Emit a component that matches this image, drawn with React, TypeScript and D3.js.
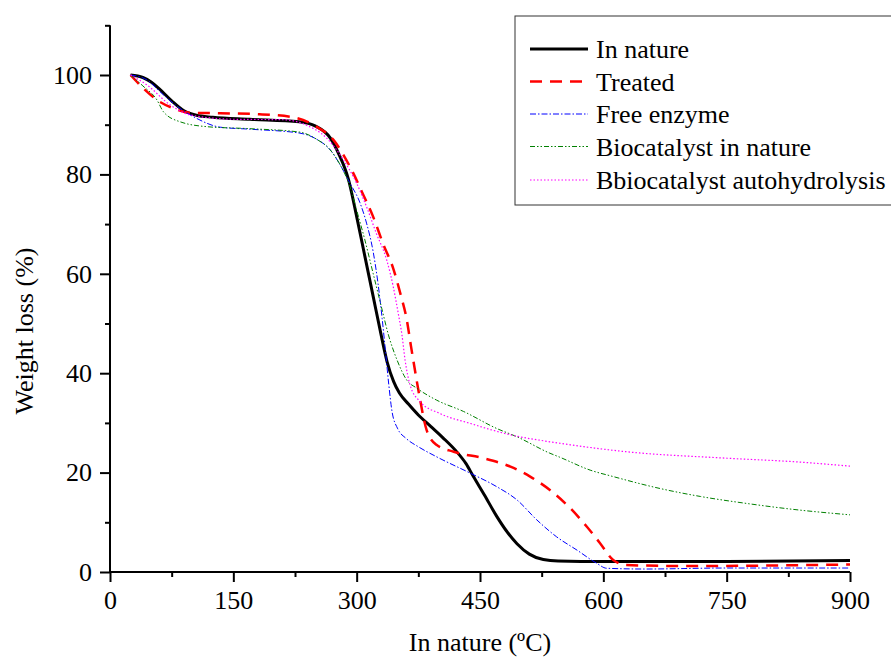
import React, { useEffect, useRef } from "react";
import * as d3 from "d3";

type Pt = [number, number];

const xTicks = [0, 150, 300, 450, 600, 750, 900];
const xMinorTicks = [75, 225, 375, 525, 675, 825];
const yTicks = [0, 20, 40, 60, 80, 100];
const yMinorTicks = [10, 30, 50, 70, 90, 110];

const inNature: Pt[] = [
  [25, 100], [40, 99.5], [50, 98.6], [60, 97.2], [75, 94.8], [90, 92.8], [105, 91.9], [125, 91.5],
  [170, 91.1], [230, 90.6], [250, 89.7], [268, 87.3], [278, 84.2], [290, 79], [300, 71.5],
  [310, 63.5], [320, 55.5], [330, 47.5], [337, 42.3], [345, 38.3], [352, 36],
  [363, 33.8], [375, 31.6], [390, 29.3], [405, 27], [420, 24.5], [433, 21.8], [442, 19.2],
  [455, 15.6], [470, 11.3], [482, 8.3], [495, 5.7], [510, 3.6], [527, 2.5], [545, 2.2],
  [600, 2.1], [750, 2.1], [900, 2.3],
];

const treated: Pt[] = [
  [25, 100], [40, 97.4], [57, 95], [77, 93.3], [97, 92.4], [134, 92.3], [182, 92.1], [223, 91.5],
  [251, 89.6], [272, 86.9], [284, 83.9], [296, 80.2], [308, 75.9], [320, 71.5], [332, 66.1],
  [345, 60.8], [353, 56.1], [361, 50.7], [366, 45.5], [371, 40.5], [377, 34.8], [385, 28.6],
  [397, 25.6], [418, 24.2], [454, 22.9], [487, 21.2], [511, 19.2], [535, 16.5], [560, 12.8],
  [580, 9.1], [596, 5.8], [612, 2.4], [628, 1.4], [700, 1.2], [800, 1.3], [900, 1.5],
];

const freeEnzyme: Pt[] = [
  [25, 100], [45, 99], [65, 96], [85, 93.3], [105, 91.3], [134, 89.5], [170, 89.1], [231, 88.3],
  [251, 87.1], [268, 84.9], [280, 81.9], [292, 78.2], [304, 74.3], [312, 70.2], [320, 64.5],
  [326, 58], [331, 51], [335, 44.5], [339, 37.8], [343, 32.3], [350, 28.8], [360, 26.9],
  [375, 25.2], [397, 23.2], [438, 19.9], [470, 17.2], [495, 14.5], [519, 10.5], [543, 7.1],
  [568, 4.4], [592, 1.75], [604, 0.75], [650, 0.6], [750, 0.8], [900, 0.8],
];

const biocatalyst: Pt[] = [
  [25, 100], [40, 97.8], [57, 95], [65, 92.6], [85, 90.6], [118, 89.6], [170, 89.2], [231, 88.5],
  [251, 87.1], [268, 84.9], [280, 81.9], [292, 77.5], [300, 72.8], [310, 66.8], [320, 60.1],
  [330, 53.4], [339, 47.5], [349, 42.7], [361, 38.6], [373, 37], [397, 34.6], [430, 32.3],
  [470, 28.9], [495, 27.2], [535, 23.9], [547, 23.1], [584, 20.5], [612, 19.2], [669, 16.8],
  [718, 15.2], [774, 13.8], [831, 12.6], [900, 11.5],
];

const autohydrolysis: Pt[] = [
  [25, 100], [45, 98], [73, 94], [97, 92], [150, 91.1], [211, 91], [239, 89.9], [263.5, 87.3],
  [284, 82.9], [300, 78.2], [312, 73.5], [324, 68.1], [336.5, 62.8], [344.5, 57.4], [350.6, 52],
  [355, 47.8], [359, 42.5], [365, 37.6], [377, 34.3], [401, 31.9], [438, 29.9], [487, 27.6],
  [535, 26.2], [547, 25.9], [628, 24.2], [750, 22.9], [831, 22.2], [900, 21.3],
];

const seriesNames = ["In nature", "Treated", "Free enzyme", "Biocatalyst in nature", "Bbiocatalyst autohydrolysis"];
const seriesData = [inNature, treated, freeEnzyme, biocatalyst, autohydrolysis];
const seriesColors = ["#000000", "#ff0000", "#0000ff", "#008000", "#ff00ff"];
const seriesWidths = [3, 2.5, 1, 1, 1.2];
const seriesDash = ["", "12,8", "6,2,1.5,2", "5,2,1.5,2,1.5,2", "1.5,2"];

const W = 891;
const H = 659;
const FONT = "'Liberation Serif', 'Times New Roman', serif";

export default function App() {
  const gx = useRef<SVGGElement>(null);
  const gy = useRef<SVGGElement>(null);
  const gxm = useRef<SVGGElement>(null);
  const gym = useRef<SVGGElement>(null);

  const x = d3.scaleLinear().domain([0, 900]).range([110, 850]);
  const y = d3.scaleLinear().domain([0, 100]).range([572, 75]);

  const line = d3
    .line<Pt>()
    .x((d) => x(d[0]))
    .y((d) => y(d[1]))
    .curve(d3.curveMonotoneX);

  useEffect(() => {
    const xa = d3.axisBottom(x).tickValues(xTicks).tickSize(10).tickPadding(9).tickFormat((d) => String(d));
    const sx = d3.select(gx.current!);
    sx.call(xa);
    sx.select(".domain").attr("stroke-width", 2).attr("d", `M${x(0)},0H${x(900)}`);
    sx.selectAll(".tick line").attr("stroke-width", 2);
    sx.selectAll(".tick text").attr("font-family", FONT).attr("font-size", 26).attr("fill", "#000");

    const xm = d3.axisBottom(x).tickValues(xMinorTicks).tickSize(5).tickFormat(() => "");
    const sxm = d3.select(gxm.current!);
    sxm.call(xm);
    sxm.select(".domain").remove();
    sxm.selectAll(".tick line").attr("stroke-width", 2);

    const ya = d3.axisLeft(y).tickValues(yTicks).tickSize(10).tickPadding(8).tickFormat((d) => String(d));
    const sy = d3.select(gy.current!);
    sy.call(ya);
    sy.select(".domain").attr("stroke-width", 2).attr("d", `M0,${y(110)}V${y(0)}`);
    sy.selectAll(".tick line").attr("stroke-width", 2);
    sy.selectAll(".tick text").attr("font-family", FONT).attr("font-size", 26).attr("fill", "#000");

    const ym = d3.axisLeft(y).tickValues(yMinorTicks).tickSize(5).tickFormat(() => "");
    const sym = d3.select(gym.current!);
    sym.call(ym);
    sym.select(".domain").remove();
    sym.selectAll(".tick line").attr("stroke-width", 2);
  }, []);

  const legendRows = [49, 81.5, 114, 146.5, 180];

  return (
    <svg
      width={W}
      height={H}
      style={{ position: "absolute", left: 0, top: 0, background: "#fff" }}
      fontFamily={FONT}
    >
      <rect x={0} y={0} width={W} height={H} fill="#fff" />
      {seriesData.map((d, i) => (
        <path
          key={seriesNames[i]}
          d={line(d) || ""}
          fill="none"
          stroke={seriesColors[i]}
          strokeWidth={seriesWidths[i]}
          strokeDasharray={seriesDash[i] || undefined}
        />
      ))}
      <g ref={gxm} transform={`translate(0,${y(0)})`} />
      <g ref={gym} transform={`translate(${x(0)},0)`} />
      <g ref={gx} transform={`translate(0,${y(0)})`} />
      <g ref={gy} transform={`translate(${x(0)},0)`} />

      <text x={480} y={651} textAnchor="middle" fontSize={26} fill="#000">
        In nature (ºC)
      </text>
      <text
        transform={`translate(33,${331}) rotate(-90)`}
        textAnchor="middle"
        fontSize={26}
        fill="#000"
      >
        Weight loss (%)
      </text>

      <rect x={515} y={16} width={390} height={189} fill="#fff" stroke="#333" strokeWidth={1} />
      {seriesNames.map((name, i) => (
        <g key={name}>
          <line
            x1={530}
            x2={588}
            y1={legendRows[i]}
            y2={legendRows[i]}
            stroke={seriesColors[i]}
            strokeWidth={seriesWidths[i]}
            strokeDasharray={seriesDash[i] || undefined}
          />
          <text x={596} y={legendRows[i] + 9} fontSize={26} fill="#000">
            {name}
          </text>
        </g>
      ))}
    </svg>
  );
}
